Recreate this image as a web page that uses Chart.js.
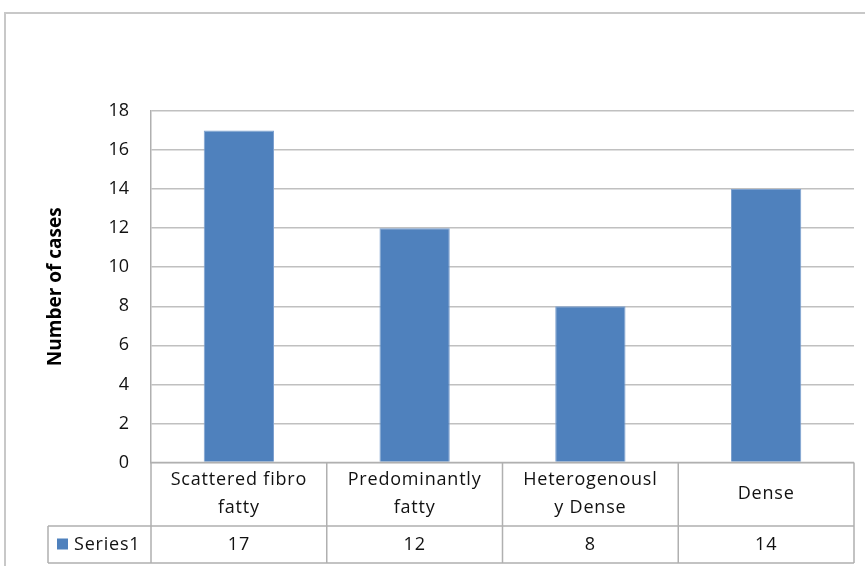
<!DOCTYPE html>
<html><head><meta charset="utf-8">
<script src="https://cdn.jsdelivr.net/npm/chart.js@4"></script>
<style>html,body{margin:0;padding:0;background:#fff;overflow:hidden}#wrap{width:865px;height:566px;position:relative}</style>
</head><body><div id="wrap"><canvas id="c" width="865" height="566"></canvas></div>
<script>
const categories = [["Scattered fibro","fatty"],["Predominantly","fatty"],["Heterogenousl","y Dense"],["Dense"]];
const seriesName = "Series1";
const values = [17, 12, 8, 14];
const yMin = 0, yMax = 18, yStep = 2;
const axisTitle = "Number of cases";

const FONT = "'Open Sans', 'Liberation Sans', sans-serif";
const BAR = "#4f81bd";
const GRID = "#c0c0c0";
const TEXT = "#111";

const tablePlugin = {
  id: 'dataTable',
  beforeDraw(chart) {
    const ctx = chart.ctx;
    ctx.save();
    ctx.fillStyle = '#fff';
    ctx.fillRect(0, 0, chart.width, chart.height);
    ctx.strokeStyle = '#c8c8c8';
    ctx.lineWidth = 2;
    ctx.strokeRect(5, 13, 900, 600);
    ctx.restore();
  },
  afterDraw(chart) {
    const ctx = chart.ctx;
    const ca = chart.chartArea;
    const xs = chart.scales.x;
    const n = categories.length;
    const w = (ca.right - ca.left) / n;
    const top = ca.bottom;
    const mid = top + 63.5;
    const bot = mid + 37;
    const legLeft = 48;
    ctx.save();
    ctx.strokeStyle = '#b0b0b0';
    ctx.lineWidth = 1.5;
    ctx.beginPath();
    ctx.moveTo(ca.left, top); ctx.lineTo(ca.right, top);
    ctx.moveTo(legLeft, mid); ctx.lineTo(ca.right, mid);
    ctx.moveTo(legLeft, bot); ctx.lineTo(ca.right, bot);
    for (let i = 0; i <= n; i++) {
      const x = ca.left + i * w;
      ctx.moveTo(x, top); ctx.lineTo(x, bot);
    }
    ctx.moveTo(legLeft, mid); ctx.lineTo(legLeft, bot);
    ctx.stroke();

    ctx.fillStyle = TEXT;
    ctx.font = "18px " + FONT;
    try { ctx.letterSpacing = '0.8px'; } catch (e) {}
    ctx.textAlign = 'center';
    ctx.textBaseline = 'middle';
    for (let i = 0; i < n; i++) {
      const cx = xs.getPixelForValue(i);
      const lines = categories[i];
      const lh = 28;
      const cy = (top + mid) / 2;
      lines.forEach((ln, k) => {
        ctx.fillText(ln, cx, cy + (k - (lines.length - 1) / 2) * lh);
      });
      ctx.fillText(String(values[i]), cx, (mid + bot) / 2);
    }
    ctx.fillStyle = BAR;
    ctx.fillRect(57, (mid + bot) / 2 - 6, 11, 11);
    ctx.fillStyle = TEXT;
    ctx.textAlign = 'left';
    ctx.fillText(seriesName, 74, (mid + bot) / 2);
    ctx.restore();
  }
};

new Chart(document.getElementById('c'), {
  type: 'bar',
  data: {
    labels: categories.map(c => c.join(' ')),
    datasets: [{
      label: seriesName,
      data: values,
      backgroundColor: BAR,
      borderColor: '#7ea1cf',
      borderWidth: 1,
      barPercentage: 0.4,
      categoryPercentage: 1.0
    }]
  },
  options: {
    responsive: false,
    animation: false,
    layout: { padding: { left: 40, top: 111, right: 11, bottom: 103.5 } },
    plugins: { legend: { display: false }, tooltip: { enabled: false } },
    scales: {
      x: {
        offset: true,
        ticks: { display: false },
        grid: { display: false, drawTicks: false },
        border: { display: false }
      },
      y: {
        min: yMin, max: yMax,
        afterFit(scale) { scale.width = 111; },
        ticks: { stepSize: yStep, padding: 22, color: TEXT, font: { family: FONT, size: 18 } },
        grid: { color: GRID, lineWidth: 1.5, drawTicks: false },
        border: { display: true, color: '#b0b0b0', width: 1.5 },
        title: { display: true, text: axisTitle, color: '#000', font: { family: FONT, size: 19, weight: 'bold' }, padding: { top: 4, bottom: 4 } }
      }
    }
  },
  plugins: [tablePlugin]
});
</script></body></html>
